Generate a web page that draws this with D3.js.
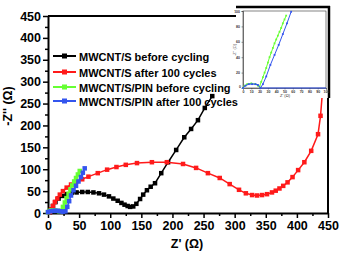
<!DOCTYPE html>
<html>
<head>
<meta charset="utf-8">
<script src="https://cdn.jsdelivr.net/npm/d3@7"></script>
<style>
  body { margin: 0; background: #fff; }
  text { font-family: "Liberation Sans", Arial, sans-serif; }
</style>
</head>
<body>
<div id="my_dataviz"></div>
<script>
// data: [Z', -Z'']
var seriesNames = ["MWCNT/S before cycling", "MWCNT/S after 100 cycles",
                   "MWCNT/S/PIN before cycling", "MWCNT/S/PIN after 100 cycles"];
var seriesColors = ["#000000", "#ff1a1a", "#66ff33", "#3355ee"];

var blackPts = [[3,2],[5,8],[8,16],[12,25],[17,33],[23,39],[30,43],[38,46],[46,47],[55,48],[64,48],
  [73,47],[82,45],[90,42],[98,38],[105,33],[112,28],[118,23],[123,19],[128,16],[132,14],[137,15],
  [142,21],[148,32],[153,42],[159,52],[165,60],[172,68],[182,91],[193,116],[206,144],[219,173],
  [230,192],[241,212],[252,240],[264,267]];
var redPts = [[3,2],[5,8],[8,16],[11,25],[15,33],[19,42],[24,50],[30,58],[37,65],[45,71],[55,77],
  [65,83],[80,91],[95,99],[110,105],[125,110],[143,114],[167,116],[191,116],[217,112],[238,103],
  [257,91],[276,80],[292,66],[307,53],[318,45],[328,41],[336,40],[344,41],[352,43],[360,47],
  [366,51],[372,56],[378,62],[385,70],[393,82],[402,98],[412,116],[423,142],[434,180],[438,222],
  [441,275]];
var greenPts = [[0,2],[3,5],[6,6],[10,6],[14,5],[18,4],[21,5],[24,14],[27,24],[30,34],[33,44],
  [36,54],[39,63],[42,72],[45,80],[48,88],[51,96]];
var bluePts = [[0,2],[4,4],[8,5],[12,5],[16,5],[20,4],[24,3],[28,4],[31,14],[34,27],[37,40],
  [41,52],[45,62],[49,72],[53,82],[56,92],[59,102]];

// inset (zoomed on the PIN samples)
var insetGreen = [[0,0],[2,3],[5,5],[10,6],[15,5],[18,3],[20,2],[22,8],[24,14],[26,20],[28,26],
  [30,33],[32,40],[34,46],[36,52],[38,58],[40,63],[42,68],[44,73],[46,78],[48,84],[50,89],[52,94]];
var insetBlue = [[0,0],[3,3],[7,5],[11,5],[15,5],[18,4],[21,0],[24,5],[28,15],[33,30],[38,43],
  [43,56],[48,70],[53,84],[58,99]];
var insetBase = [[21,0],[100,0]];

var xTicks = d3.range(0, 451, 50);
var yTicks = d3.range(0, 451, 50);
var insetXTicks = d3.range(0, 101, 10);
var insetYTicks = d3.range(20, 101, 20);

var W = 341, H = 254;
var svg = d3.select("#my_dataviz").append("svg")
  .attr("width", W).attr("height", H);

// main scales
var x = d3.scaleLinear().domain([0, 450]).range([48, 328]);
var y = d3.scaleLinear().domain([0, 450]).range([213, 16]);

var plot = svg.append("g");

// x axis
plot.append("g")
  .attr("transform", "translate(0," + y(0) + ")")
  .call(d3.axisBottom(x).tickValues(xTicks).tickSize(5).tickPadding(3).tickSizeOuter(0));
plot.append("g")
  .attr("transform", "translate(0," + y(0) + ")")
  .call(d3.axisBottom(x).tickValues(d3.range(25, 450, 50)).tickSize(3).tickFormat("").tickSizeOuter(0))
  .select(".domain").remove();

// y axis
plot.append("g")
  .attr("transform", "translate(" + x(0) + ",0)")
  .call(d3.axisLeft(y).tickValues(yTicks).tickSize(5).tickPadding(2).tickSizeOuter(0));
plot.append("g")
  .attr("transform", "translate(" + x(0) + ",0)")
  .call(d3.axisLeft(y).tickValues(d3.range(25, 450, 50)).tickSize(3).tickFormat("").tickSizeOuter(0))
  .select(".domain").remove();

plot.selectAll(".tick line").attr("stroke", "#000").attr("stroke-width", 1.5);
plot.selectAll(".domain").attr("stroke", "#000").attr("stroke-width", 2);
plot.selectAll(".tick text")
  .attr("font-size", 12.5).attr("font-weight", "bold").attr("fill", "#000");

// top and right border
plot.append("line").attr("x1", x(0)).attr("x2", x(450)).attr("y1", y(450)).attr("y2", y(450))
  .attr("stroke", "#000").attr("stroke-width", 2);
plot.append("line").attr("x1", x(450)).attr("x2", x(450)).attr("y1", y(450)).attr("y2", y(0))
  .attr("stroke", "#000").attr("stroke-width", 2);

// axis titles
svg.append("text").attr("x", 187).attr("y", 248).attr("text-anchor", "middle")
  .attr("font-size", 12.5).attr("font-weight", "bold").text("Z' (\u03A9)");
svg.append("text").attr("transform", "translate(12,106) rotate(-90)").attr("text-anchor", "middle")
  .attr("font-size", 12.5).attr("font-weight", "bold").text("-Z'' (\u03A9)");

// draw a series: line plus square markers
function drawSeries(g, pts, color, sx, sy, size, lw) {
  var line = d3.line().x(function(d) { return sx(d[0]); }).y(function(d) { return sy(d[1]); });
  g.append("path").datum(pts)
    .attr("fill", "none").attr("stroke", color).attr("stroke-width", lw)
    .attr("d", line);
  g.selectAll(null).data(pts).enter().append("rect")
    .attr("x", function(d) { return sx(d[0]) - size / 2; })
    .attr("y", function(d) { return sy(d[1]) - size / 2; })
    .attr("width", size).attr("height", size)
    .attr("fill", color);
}

var allSeries = [blackPts, redPts, greenPts, bluePts];
allSeries.forEach(function(pts, i) {
  drawSeries(plot.append("g"), pts, seriesColors[i], x, y, 4.5, 1.5);
});

// inset
var inset = svg.append("g");
inset.append("rect").attr("x", 236).attr("y", 6).attr("width", 93).attr("height", 92)
  .attr("fill", "#fff");
inset.append("line").attr("x1", 236).attr("x2", 330).attr("y1", 7).attr("y2", 7)
  .attr("stroke", "#000").attr("stroke-width", 2.5);
inset.append("line").attr("x1", 329).attr("x2", 329).attr("y1", 6).attr("y2", 98)
  .attr("stroke", "#000").attr("stroke-width", 2.5);

var ix = d3.scaleLinear().domain([0, 100]).range([243, 326]);
var iy = d3.scaleLinear().domain([0, 100]).range([88, 11]);

inset.append("rect").attr("x", ix(0)).attr("y", iy(100))
  .attr("width", ix(100) - ix(0)).attr("height", iy(0) - iy(100))
  .attr("fill", "none").attr("stroke", "#333").attr("stroke-width", 0.6);
inset.append("g").attr("transform", "translate(0," + iy(0) + ")")
  .call(d3.axisBottom(ix).tickValues(insetXTicks).tickSize(1.5).tickPadding(1.5));
inset.append("g").attr("transform", "translate(" + ix(0) + ",0)")
  .call(d3.axisLeft(iy).tickValues(insetYTicks).tickSize(1.5).tickPadding(1.5));
inset.selectAll(".domain").attr("stroke", "#333").attr("stroke-width", 0.6);
inset.selectAll(".tick line").attr("stroke", "#333").attr("stroke-width", 0.5);
inset.selectAll(".tick text").attr("font-size", 3.5).attr("font-weight", "bold").attr("fill", "#333");
// y "0" label sits just above the x "0" label
inset.append("text").attr("x", ix(0) - 2).attr("y", iy(0) - 0.5).attr("text-anchor", "end")
  .attr("font-size", 3.5).attr("font-weight", "bold").attr("fill", "#333").text("0");
inset.append("text").attr("x", 285).attr("y", 97).attr("text-anchor", "middle")
  .attr("font-size", 4).attr("fill", "#333").text("Z' (\u03A9)");
inset.append("text").attr("transform", "translate(236,50) rotate(-90)").attr("text-anchor", "middle")
  .attr("font-size", 4).attr("fill", "#555").text("-Z'' (\u03A9)");

inset.append("path").datum(insetBase)
  .attr("fill", "none").attr("stroke", seriesColors[3]).attr("stroke-width", 1)
  .attr("d", d3.line().x(function(d) { return ix(d[0]); }).y(function(d) { return iy(d[1]); }));
drawSeries(inset.append("g"), insetGreen, seriesColors[2], ix, iy, 1.8, 1);
drawSeries(inset.append("g"), insetBlue, seriesColors[3], ix, iy, 1.8, 1);

// legend (drawn last, its text runs into the inset)
var legend = svg.append("g");
var legendY = [56, 72, 87, 101];
seriesNames.forEach(function(name, i) {
  var row = legend.append("g").attr("transform", "translate(0," + legendY[i] + ")");
  row.append("line").attr("x1", 53).attr("x2", 76).attr("y1", 0).attr("y2", 0)
    .attr("stroke", seriesColors[i]).attr("stroke-width", 2);
  row.append("rect").attr("x", 62).attr("y", -2.5).attr("width", 5).attr("height", 5)
    .attr("fill", seriesColors[i]);
  row.append("text").attr("x", 79).attr("y", 4.5)
    .attr("font-size", 11).attr("font-weight", "bold").attr("fill", "#000").text(name);
});
</script>
</body>
</html>
